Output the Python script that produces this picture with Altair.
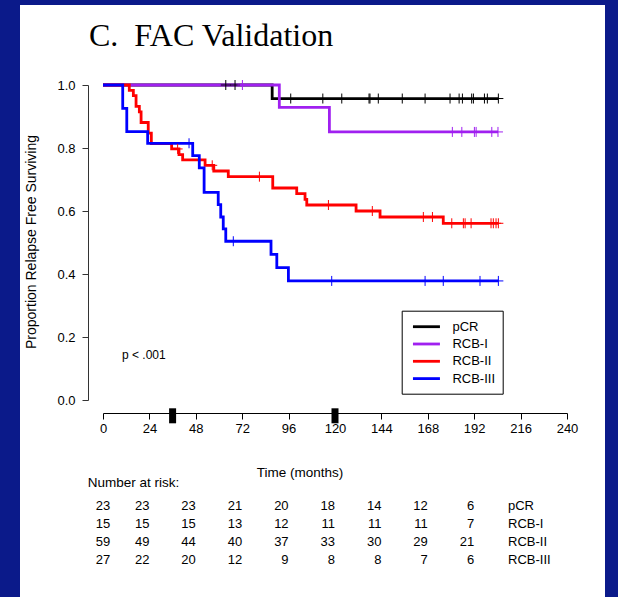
import altair as alt
import pandas as pd

# ---------------- data ----------------
groups = ["pCR", "RCB-I", "RCB-II", "RCB-III"]
colors = ["#000000", "#A020F0", "#FF0000", "#0000FF"]

# Kaplan-Meier curves: time of each drop (first = start) and survival after it
pcr_t = [0, 87.5]
pcr_s = [1.0, 0.957]
pcr_censor = [63.5, 68.3, 97.1, 113.7, 123.5, 137.6, 138.1, 142.4, 154.8, 166.6,
              179.5, 184.2, 185.9, 190.7, 191.6, 197.3, 198.8, 204.5]

rcb1_t = [0, 91.2, 117.1]
rcb1_s = [1.0, 0.929, 0.851]
rcb1_censor = [72.1, 180.7, 185.6, 192.1, 193.0, 201.1, 204.3]

rcb2_t = [0, 13.6, 15.7, 17.1, 18.8, 19.7, 23.4, 25.0, 35.5, 39.3, 41.2, 52.8,
          57.3, 64.8, 87.8, 100.2, 104.5, 105.4, 130.9, 143.3, 176.0]
rcb2_s = [1.0, 0.983, 0.966, 0.932, 0.915, 0.881, 0.847, 0.814, 0.797, 0.779,
          0.762, 0.745, 0.727, 0.709, 0.673, 0.655, 0.637, 0.619, 0.600, 0.581, 0.561]
rcb2_censor = [38.6, 56.5, 80.9, 116.6, 139.3, 165.7, 170.4, 180.4, 186.4, 187.3,
               190.4, 200.7, 201.9, 203.3, 204.5]

rcb3_t = [0, 10.2, 12.3, 23.1, 46.4, 49.8, 52.3, 59.6, 60.9, 62.2, 63.5, 86.9, 89.9, 95.9]
rcb3_s = [1.0, 0.926, 0.852, 0.815, 0.776, 0.737, 0.659, 0.620, 0.581, 0.543,
          0.504, 0.462, 0.420, 0.378]
rcb3_censor = [44.5, 67.4, 118.3, 166.6, 176.0, 195.0, 204.5]

# number at risk table
risk_times = [0, 24, 48, 72, 96, 120, 144, 168, 192]
risk_pcr = [23, 23, 23, 21, 20, 18, 14, 12, 6]
risk_rcb1 = [15, 15, 15, 13, 12, 11, 11, 11, 7]
risk_rcb2 = [59, 49, 44, 40, 37, 33, 30, 29, 21]
risk_rcb3 = [27, 22, 20, 12, 9, 8, 8, 7, 6]

landmark_times = [36, 120]
x_ticks = [0, 24, 48, 72, 96, 120, 144, 168, 192, 216, 240]
y_ticks = [0.0, 0.2, 0.4, 0.6, 0.8, 1.0]

series = [
    ("pCR", pcr_t, pcr_s, pcr_censor, risk_pcr),
    ("RCB-I", rcb1_t, rcb1_s, rcb1_censor, risk_rcb1),
    ("RCB-II", rcb2_t, rcb2_s, rcb2_censor, risk_rcb2),
    ("RCB-III", rcb3_t, rcb3_s, rcb3_censor, risk_rcb3),
]

FONT = "Liberation Sans"
NAVY = "#0b1a8a"

# ---------------- helpers ----------------
def step_frame(name, t, s, censor):
    rows = [{"group": name, "time": a, "surv": b} for a, b in zip(t, s)]
    rows.append({"group": name, "time": max(censor), "surv": s[-1]})
    return pd.DataFrame(rows)


def censor_frame(name, t, s, censor):
    rows = []
    for c in censor:
        v = [b for a, b in zip(t, s) if a <= c][-1]
        rows.append({"group": name, "time": c, "surv": v})
    return pd.DataFrame(rows)


xscale = alt.Scale(domain=[0, 240], nice=False, zero=False)
yscale = alt.Scale(domain=[0, 1], nice=False, zero=False)
xaxis = alt.Axis(values=x_ticks, title=None, offset=13, tickSize=6, labelPadding=3,
                 labelFont=FONT, labelFontSize=13, labelColor="black",
                 domainColor="black", tickColor="black", grid=False, zindex=1,
                 labelFlush=False, labelOverlap=False)
yaxis = alt.Axis(values=y_ticks, format=".1f", title=None, offset=15, tickSize=6,
                 labelPadding=7, labelFont=FONT, labelFontSize=13, labelColor="black",
                 domainColor="#333", tickColor="#333", grid=False, zindex=1,
                 labelFlush=False, labelOverlap=False)

X = alt.X("time:Q", scale=xscale, axis=xaxis)
Y = alt.Y("surv:Q", scale=yscale, axis=yaxis)

legend = alt.Legend(title=None, orient="none", legendX=298.7, legendY=225.7,
                    strokeColor="black", fillColor="white",
                    padding=7.5, symbolType="M-2,0H2", symbolSize=182,
                    symbolStrokeWidth=2.8, symbolOffset=8.75, labelOffset=17.45,
                    rowPadding=1.3, labelFont=FONT, labelFontSize=13,
                    labelColor="black", zindex=1)
color = alt.Color("group:N", scale=alt.Scale(domain=groups, range=colors), legend=legend)

layers = []

# white slide panel inside the navy frame
panel = alt.Chart(pd.DataFrame({"a": [0]})).mark_rect(color="white").encode(
    x=alt.value(-83), x2=alt.value(502), y=alt.value(-80), y2=alt.value(520))
layers.append(panel)

# survival step lines
for name, t, s, cen, _ in series:
    layers.append(
        alt.Chart(step_frame(name, t, s, cen)).mark_line(
            interpolate="step-after", strokeWidth=2.8, strokeCap="butt"
        ).encode(x=X, y=Y, color=color)
    )

# censor marks (+)
for (name, t, s, cen, _), col in zip(series, colors):
    layers.append(
        alt.Chart(censor_frame(name, t, s, cen)).mark_point(
            shape="M0,-1V1M-1,0H1", size=100, filled=False, strokeWidth=1,
            opacity=1, color=col
        ).encode(x=X, y=Y)
    )

# landmark marks on the time axis
layers.append(
    alt.Chart(pd.DataFrame({"time": landmark_times})).mark_rule(
        color="black", strokeWidth=7, strokeCap="butt"
    ).encode(x=X, y=alt.value(323.3), y2=alt.value(338.3))
)

# texts
def txt(text, x, y, size=13, align="left", baseline="middle", font=FONT, angle=0):
    kw = dict(text=text, fontSize=size, align=align, baseline=baseline, font=font,
              color="black")
    if angle:
        kw["angle"] = angle
    return alt.Chart(pd.DataFrame({"a": [0]})).mark_text(**kw).encode(
        x=alt.value(x), y=alt.value(y))

layers.append(txt("C.\u00a0\u00a0FAC Validation", -14, -39, size=32,
                  baseline="alphabetic", font="Liberation Serif"))
layers.append(txt("Proportion Relapse Free Surviving", -71, 157, size=14,
                  align="center", angle=270))
layers.append(txt("p < .001", 19, 270, size=12))
layers.append(txt("Time (months)", 197, 388, size=13.5, align="center"))
layers.append(txt("Number at risk:", -15.3, 398, size=13.5))

row_y = [420.8, 438.7, 457.0, 474.9]
for (name, t, s, cen, risk), ry in zip(series, row_y):
    df = pd.DataFrame({"time": risk_times, "n": risk})
    base = alt.Chart(df)
    layers.append(
        base.transform_filter("datum.time > 0").mark_text(
            align="right", baseline="middle", fontSize=13, font=FONT, color="black"
        ).encode(x=X, y=alt.value(ry), text="n:Q")
    )
    layers.append(
        base.transform_filter("datum.time == 0").mark_text(
            align="center", baseline="middle", fontSize=13, font=FONT, color="black"
        ).encode(x=X, y=alt.value(ry), text="n:Q")
    )
    layers.append(txt(name, 405, ry, size=13))

chart = alt.layer(*layers).properties(
    width=464,
    height=315,
    autosize=alt.AutoSizeParams(type="none"),
    padding={"left": 103, "top": 85, "right": 51, "bottom": 197},
    background=NAVY,
).configure_view(stroke=None)

chart.save("out.html", embed_options={"renderer": "svg", "actions": False})
